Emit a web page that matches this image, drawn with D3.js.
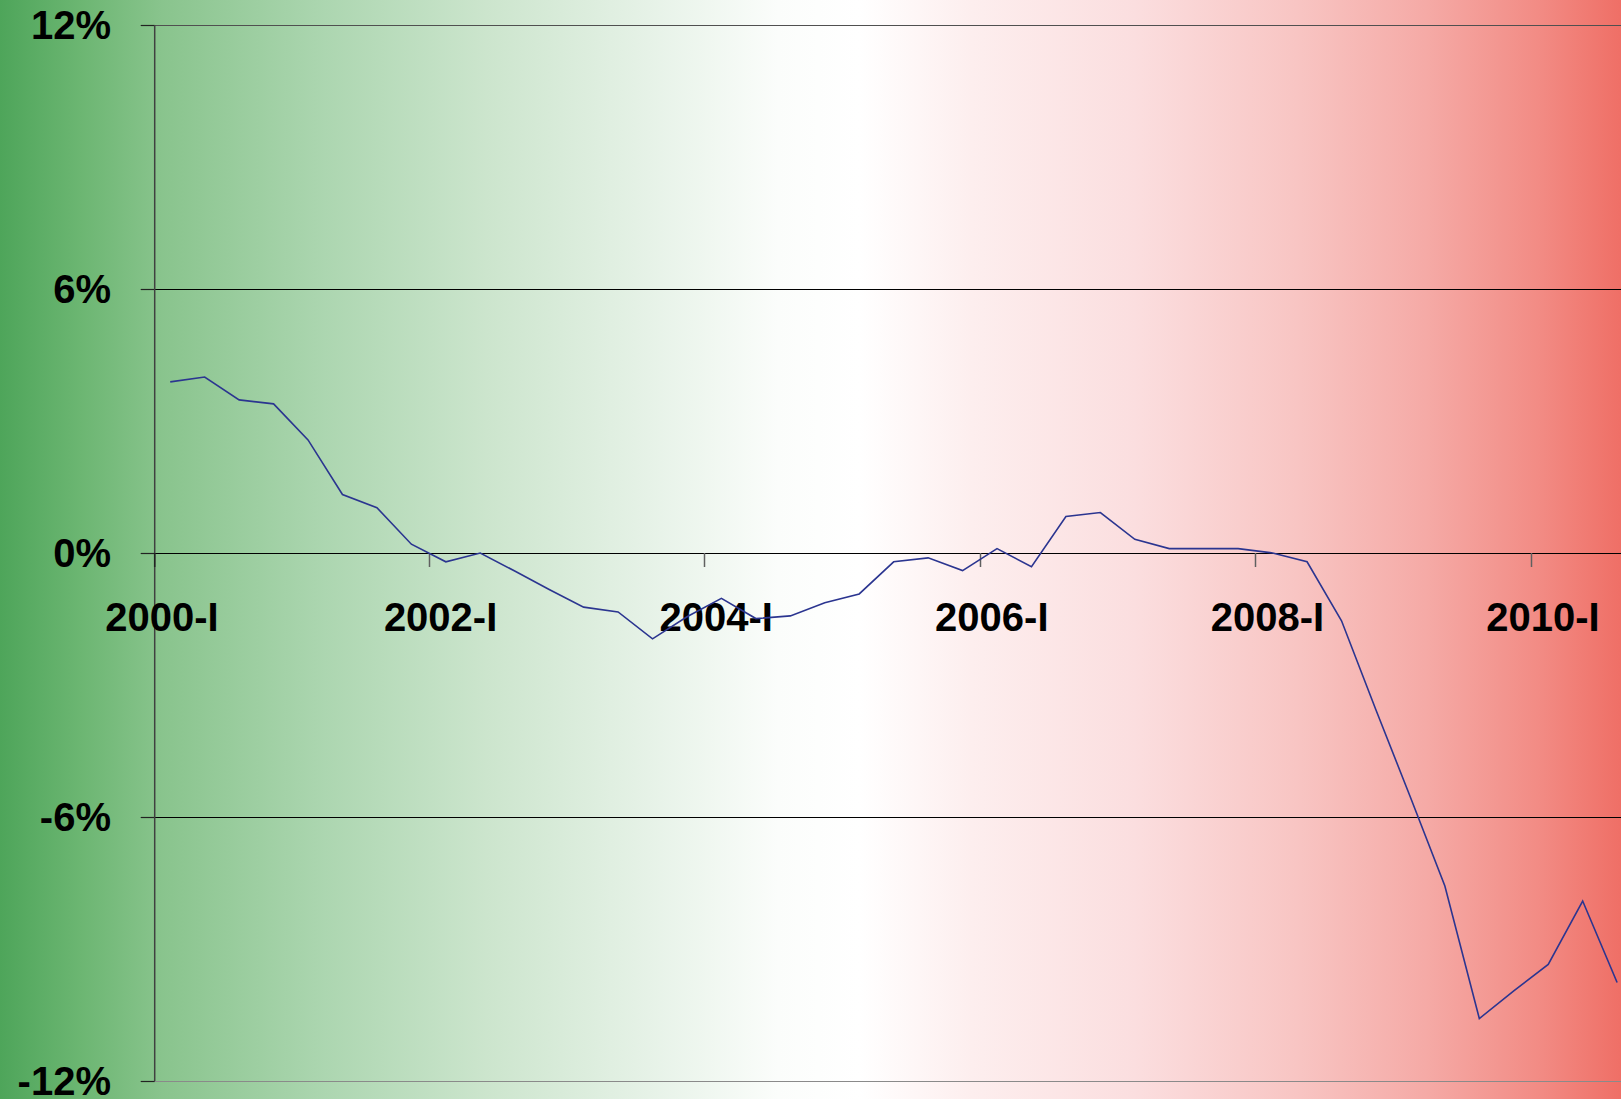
<!DOCTYPE html>
<html>
<head>
<meta charset="utf-8">
<script src="https://cdn.jsdelivr.net/npm/d3@7"></script>
<style>
  html, body { margin: 0; padding: 0; background: #fff; }
  svg { display: block; }
  text { font-family: "Liberation Sans", Arial, sans-serif; font-weight: bold; fill: #000; }
</style>
</head>
<body>
<svg id="chart" width="1621" height="1099"></svg>
<script>
// Quarterly categories, 2000-I … 2010-III
const years = [2000, 2001, 2002, 2003, 2004, 2005, 2006, 2007, 2008, 2009, 2010];
const quarters = ["I", "II", "III", "IV"];
const categories = years.flatMap(yr => quarters.map(q => `${yr}-${q}`)).slice(0, 43);

// Year-on-year change, percent
const values = [
  3.89, 4.00, 3.48, 3.39, 2.57, 1.33, 1.03, 0.20,
  -0.20, 0.00, -0.41, -0.83, -1.23, -1.34, -1.95, -1.45,
  -1.03, -1.49, -1.43, -1.13, -0.93, -0.20, -0.11, -0.40,
  0.10, -0.31, 0.83, 0.92, 0.31, 0.10, 0.10, 0.10,
  0.00, -0.20, -1.54, -3.57, -5.55, -7.57, -10.58, -9.95,
  -9.35, -7.91, -9.76
];

const yTicks = [-12, -6, 0, 6, 12];
const xLabels = ["2000-I", "2002-I", "2004-I", "2006-I", "2008-I", "2010-I"];

const W = 1621, H = 1099;
const axisX = 154.7, bandStart = 153, plotTop = 25, plotBottom = 1081, step = 34.45;

const svg = d3.select("#chart");

// Background: green → white → red horizontal wash
const defs = svg.append("defs");
const grad = defs.append("linearGradient")
  .attr("id", "bg").attr("x1", "0").attr("x2", "1").attr("y1", "0").attr("y2", "0");
[
  [0.00, "#4ea55a"], [0.05, "#6cb672"], [0.10, "#89c48d"], [0.20, "#acd6b0"],
  [0.30, "#cce5cd"], [0.40, "#e6f2e7"], [0.48, "#fbfdfb"], [0.53, "#ffffff"],
  [0.60, "#fdeeee"], [0.70, "#fbdedf"], [0.80, "#f8c5c3"], [0.88, "#f5aaa6"],
  [0.95, "#f28b84"], [1.00, "#ef6f66"]
].forEach(([o, c]) => grad.append("stop").attr("offset", o).attr("stop-color", c));
svg.append("rect").attr("width", W).attr("height", H).attr("fill", "url(#bg)");

const x = d3.scaleBand().domain(categories).range([bandStart, bandStart + categories.length * step]).padding(0);
const y = d3.scaleLinear().domain([-12, 12]).range([plotBottom, plotTop]);

// Horizontal gridlines with left tick stubs
const gridColor = v => v === 12 ? "#505050" : v === -12 ? "#8a8a8a" : "#000";
svg.append("g").selectAll("line").data(yTicks).join("line")
  .attr("x1", axisX).attr("x2", W)
  .attr("y1", d => Math.round(y(d)) + 0.5).attr("y2", d => Math.round(y(d)) + 0.5)
  .attr("stroke", gridColor).attr("stroke-width", 1.2);

svg.append("g").selectAll("line").data(yTicks).join("line")
  .attr("x1", axisX - 14).attr("x2", axisX)
  .attr("y1", d => Math.round(y(d)) + 0.5).attr("y2", d => Math.round(y(d)) + 0.5)
  .attr("stroke", "#222").attr("stroke-width", 1.2);

// Vertical axis
svg.append("line")
  .attr("x1", axisX).attr("x2", axisX).attr("y1", y(12)).attr("y2", y(-12))
  .attr("stroke", "#404040").attr("stroke-width", 1.5);

// Y tick labels
svg.append("g").selectAll("text").data(yTicks).join("text")
  .attr("x", 111).attr("y", d => y(d))
  .attr("dy", "0.36em").attr("text-anchor", "end")
  .attr("font-size", 40)
  .text(d => d + "%");

// Category ticks on the zero line, every two years
svg.append("g").selectAll("line").data(xLabels).join("line")
  .attr("x1", (d, i) => i === 0 ? axisX : Math.round(x(d)) + 0.5)
  .attr("x2", (d, i) => i === 0 ? axisX : Math.round(x(d)) + 0.5)
  .attr("y1", y(0)).attr("y2", y(0) + 14)
  .attr("stroke", (d, i) => i === 0 ? "#222" : "#606060").attr("stroke-width", 1.5);

// Category labels
svg.append("g").selectAll("text").data(xLabels).join("text")
  .attr("x", (d, i) => x(d) + (i === 0 ? 9 : 12)).attr("y", 631)
  .attr("text-anchor", "middle")
  .attr("font-size", 40)
  .text(d => d);

// Series line
const line = d3.line()
  .x((d, i) => x(categories[i]) + x.bandwidth() / 2)
  .y(d => y(d));

svg.append("path")
  .datum(values)
  .attr("d", line)
  .attr("fill", "none")
  .attr("stroke", "#2b3590")
  .attr("stroke-width", 1.6)
  .attr("stroke-linejoin", "miter");
</script>
</body>
</html>
